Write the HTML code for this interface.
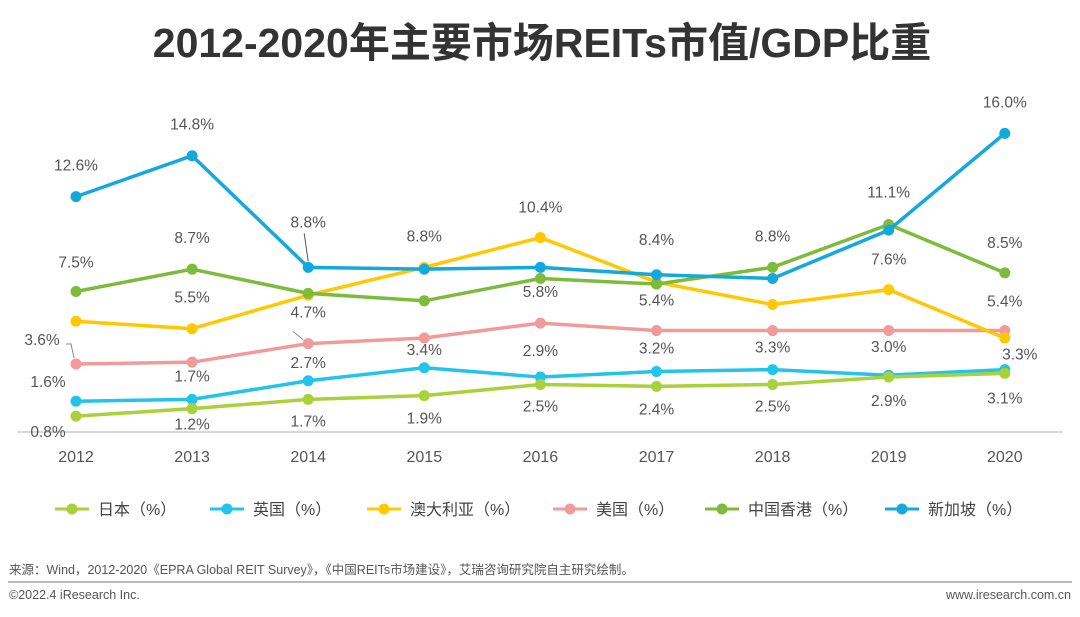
<!DOCTYPE html>
<html><head><meta charset="utf-8"><style>
body{margin:0;background:#fff;width:1080px;height:617px;overflow:hidden;font-family:"Liberation Sans","Noto Sans CJK SC",sans-serif}
svg{position:absolute;left:0;top:0}
</style></head><body>
<svg id="c" width="1080" height="617">
<text x="542" y="57" text-anchor="middle" font-size="41" font-weight="bold" fill="#333" font-family="Liberation Sans, Noto Sans CJK SC, sans-serif">2012-2020年主要市场REITs市值/GDP比重</text>
<line x1="18" y1="432" x2="1062" y2="432" stroke="#ccc" stroke-width="1.5"/>
<g id="plot"></g>
<line x1="8" y1="582" x2="1072" y2="582" stroke="#bbb" stroke-width="2"/>
<text x="9" y="574" font-size="12.5" fill="#555">来源：Wind，2012-2020《EPRA Global REIT Survey》，《中国REITs市场建设》，艾瑞咨询研究院自主研究绘制。</text>
<text x="9" y="599" font-size="12.5" fill="#555">©2022.4 iResearch Inc.</text>
<text x="1071" y="599" font-size="12.5" fill="#555" text-anchor="end">www.iresearch.com.cn</text>
</svg>
<script>
const years=["2012","2013","2014","2015","2016","2017","2018","2019","2020"];
const seriesNames=["日本（%）","英国（%）","澳大利亚（%）","美国（%）","中国香港（%）","新加坡（%）"];
const japan=[0.8,1.2,1.7,1.9,2.5,2.4,2.5,2.9,3.1];
const uk=[1.6,1.7,2.7,3.4,2.9,3.2,3.3,3.0,3.3];
const australia=[5.9,5.5,7.3,8.8,10.4,8.0,6.8,7.6,5.0];
const usa=[3.6,3.7,4.7,5.0,5.8,5.4,5.4,5.4,5.4];
const hongkong=[7.5,8.7,7.4,7.0,8.2,7.9,8.8,11.1,8.5];
const singapore=[12.6,14.8,8.8,8.7,8.8,8.4,8.2,10.8,16.0];
const colors=["#a8d13a","#22c4ec","#ffc800","#f09a9a","#7dbb3a","#13a8de"];
const allSeries=[japan,uk,australia,usa,hongkong,singapore];
// labels: [series, yearIdx, dx, dy, leader]
const labels=[[5,0,0,-26],[5,1,0,-26],[5,2,0,-40,1],[2,3,0,-26],[2,4,0,-25],[5,5,0,-30],[4,6,0,-26],[4,7,0,-27],[5,8,0,-26],
[4,0,0,-24],[4,1,0,-26],[2,1,0,-26],[3,2,0,-26,1],[3,4,0,-26],[3,5,0,-25],[2,7,0,-25],[4,8,0,-25],[3,8,0,-24],[3,0,-34,-19,1],
[1,1,0,-18],[1,2,0,-13],[1,3,0,-13],[1,4,0,-21],[1,5,0,-18],[1,6,0,-17],[1,7,0,-23],[1,8,15,-10],[1,0,-28,-14],
[0,1,0,21],[0,0,-28,21],[0,2,0,27],[0,3,0,28],[0,4,0,27],[0,5,0,28],[0,6,0,27],[0,7,0,29],[0,8,0,30]];
const X=i=>76+i*116.1, Y=v=>431-v*18.6;
const ns="http://www.w3.org/2000/svg";
const g=document.getElementById('plot');
function mk(t,a){const e=document.createElementNS(ns,t);for(const k in a)e.setAttribute(k,a[k]);return e;}
years.forEach((y,i)=>{const t=mk('text',{x:X(i),y:462,'text-anchor':'middle','font-size':16,fill:'#555'});


t.textContent=y;g.appendChild(t);});
const order=[3,2,1,0,4,5];
order.forEach(s=>{const d=allSeries[s];
const p=mk('polyline',{points:d.map((v,i)=>X(i)+','+Y(v)).join(' '),fill:'none',stroke:colors[s],'stroke-width':3.5,'stroke-linejoin':'round'});


g.appendChild(p);
d.forEach((v,i)=>{const c=mk('circle',{cx:X(i),cy:Y(v),r:5.5,fill:colors[s]});


g.appendChild(c);});});
labels.forEach(l=>{const [s,i,dx,dy,lead]=l;const v=allSeries[s][i];
const t=mk('text',{x:X(i)+dx,y:Y(v)+dy,'text-anchor':'middle','font-size':15.5,fill:'#555'});


t.textContent=v.toFixed(1)+'%';g.appendChild(t);
if(lead){let ln;
if(dx<0) ln=mk('polyline',{points:`${X(i)-10},${Y(v)-20} ${X(i)-5},${Y(v)-20} ${X(i)-2},${Y(v)-6}`,fill:'none',stroke:'#888','stroke-width':1});
else if(dy<-30) ln=mk('line',{x1:X(i)-4,y1:Y(v)-34,x2:X(i),y2:Y(v)-6,stroke:'#555','stroke-width':1});
else ln=mk('line',{x1:X(i)-15,y1:Y(v)-12,x2:X(i)-5,y2:Y(v)-4,stroke:'#888','stroke-width':1});


g.appendChild(ln);}});
const legX=[55,210,367,553,705,885];
seriesNames.forEach((n,s)=>{const lg=mk('g',{});


lg.appendChild(mk('line',{x1:legX[s],y1:509,x2:legX[s]+34,y2:509,stroke:colors[s],'stroke-width':3}));
lg.appendChild(mk('circle',{cx:legX[s]+17,cy:509,r:5.5,fill:colors[s]}));
const t=mk('text',{x:legX[s]+43,y:515,'font-size':16,fill:'#444'});t.textContent=n;lg.appendChild(t);
g.appendChild(lg);});
</script>
</body></html>
